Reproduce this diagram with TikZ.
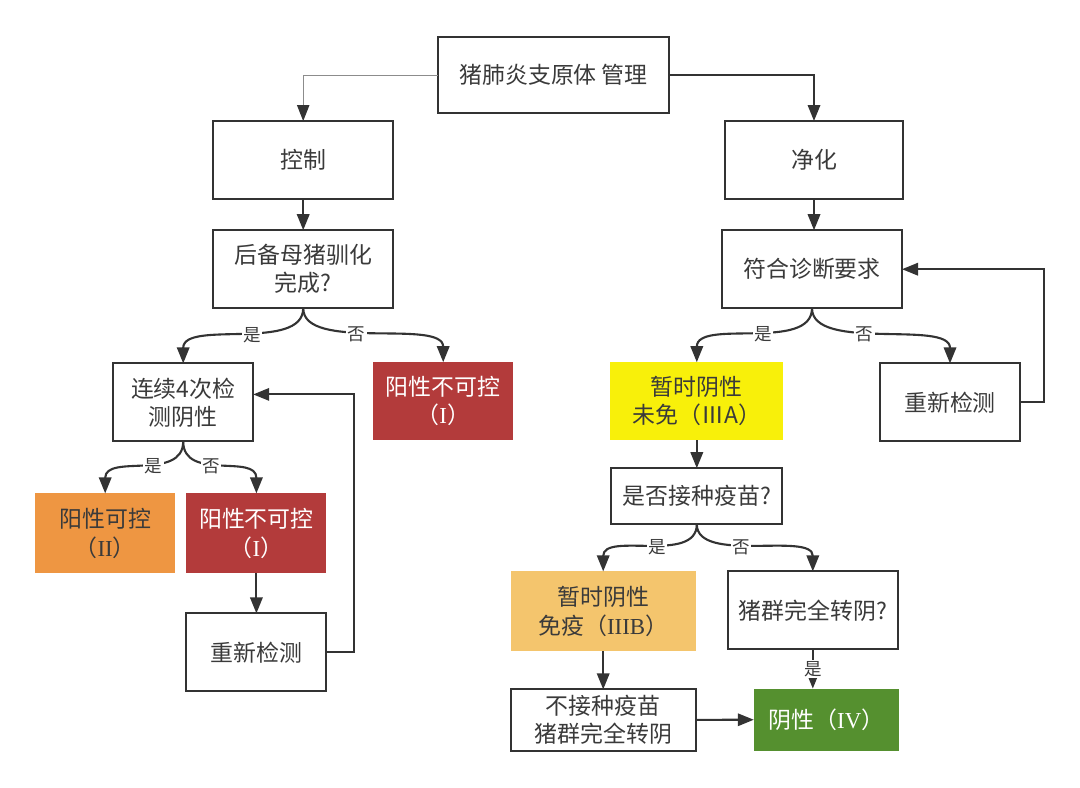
\documentclass[tikz,border=0pt]{standalone}
\usepackage{fontspec}
\setmainfont{Noto Sans CJK SC}
\newfontfamily\romanfont{Liberation Serif}
\usepackage{tikz}
\usetikzlibrary{arrows.meta, positioning}

\definecolor{DarkLine}{HTML}{333333}
\definecolor{ThinGray}{HTML}{8C8C8C}
\definecolor{TextGray}{HTML}{3A3A3A}
\definecolor{PosRed}{HTML}{B33B3B}
\definecolor{PosOrange}{HTML}{EE9642}
\definecolor{NegYellow}{HTML}{F8F00A}
\definecolor{ImmOrange}{HTML}{F4C56D}
\definecolor{NegGreen}{HTML}{55902F}

\begin{document}
\begin{tikzpicture}[node distance=1cm,
        block/.style={rectangle, draw=DarkLine, line width=1.4pt, fill=white, text=TextGray, align=center, minimum width=4.5cm, minimum height=1.95cm, inner sep=2pt, outer sep=0pt, font=\fontsize{16.3}{20}\selectfont},
        small/.style={block, minimum width=3.5cm},
        filled/.style={draw=none},
        line/.style={draw, -{Triangle[length=4mm, width=3.1mm]}, DarkLine, line width=1.5pt},
        lbl/.style={fill=white, inner sep=1pt, text=TextGray, font=\fontsize{12.5}{14}\selectfont}]

        \useasboundingbox (0,0) rectangle (27,-19.675);

        \node [block, minimum width=5.78cm, minimum height=1.9cm] (mgmt) at (13.84,-1.875) {猪肺炎支原体 管理};
        \node [block, below=0.2cm of mgmt, xshift=-6.26cm] (ctrl) {控制};
        \node [block, below=0.2cm of mgmt, xshift=6.51cm, minimum width=4.45cm] (purif) {净化};

        % control branch
        \node [block, below=0.78cm of ctrl] (gilt) {后备母猪驯化\\完成?};
        \node [small, below=1.38cm of gilt, xshift=-3cm] (neg4) {连续4次检\\测阴性};
        \node [small, filled, fill=PosRed, text=white, below=1.35cm of gilt, xshift=3.5cm] (posUnc) {阳性不可控\\（{\romanfont I}）};
        \node [small, filled, fill=PosOrange, minimum height=2cm, below=1.3cm of neg4, xshift=-1.95cm] (posCtl) {阳性可控\\（{\romanfont II}）};
        \node [small, filled, fill=PosRed, text=white, minimum height=2cm, below=1.3cm of neg4, xshift=1.83cm] (posUncL) {阳性不可控\\（{\romanfont I}）};
        \node [small, below=1cm of posUncL] (retestL) {重新检测};

        % purification branch
        \node [block, below=0.78cm of purif, xshift=-0.05cm] (diag) {符合诊断要求};
        \node [block, filled, fill=NegYellow, minimum width=4.33cm, below=1.35cm of diag, xshift=-2.88cm] (tmpNegA) {暂时阴性\\未免（ⅢA）};
        \node [small, below=1.38cm of diag, xshift=3.45cm] (retestR) {重新检测};
        \node [block, minimum width=4.28cm, minimum height=1.4cm, below=0.7cm of tmpNegA] (vacc) {是否接种疫苗?};
        \node [block, filled, fill=ImmOrange, minimum width=4.63cm, minimum height=2cm, below=1.18cm of vacc, xshift=-2.34cm] (tmpNegB) {暂时阴性\\免疫（{\romanfont IIIB}）};
        \node [block, minimum width=4.25cm, below=1.18cm of vacc, xshift=2.9cm] (herdNeg) {猪群完全转阴?};
        \node [block, minimum width=4.63cm, minimum height=1.53cm, below=0.95cm of tmpNegB] (noVacc) {不接种疫苗\\猪群完全转阴};
        \node [block, filled, fill=NegGreen, text=white, minimum width=3.63cm, minimum height=1.55cm, below=0.98cm of herdNeg, xshift=0.34cm] (negIV) {阴性（{\romanfont IV}）};

        \path [line, draw=ThinGray, line width=0.7pt, -{Triangle[length=4mm, width=3.1mm, color=DarkLine]}] (mgmt.west) -| (ctrl.north);
        \path [line] (mgmt.east) -| (purif.north);
        \path [line] (ctrl) -- (gilt);
        \path [line] (purif.south) -- (purif.south |- diag.north);

        \path [line] (gilt.south) .. controls +(0,-1.1) and +(0,1.1) .. node [lbl, pos=0.45] {是} (neg4.north);
        \path [line] (gilt.south) .. controls +(0,-1.1) and +(0,1.1) .. node [lbl, pos=0.42] {否} (posUnc.north);
        \path [line] (neg4.south) .. controls +(0,-1) and +(0,1) .. node [lbl, pos=0.42] {是} (posCtl.north);
        \path [line] (neg4.south) .. controls +(0,-1) and +(0,1) .. node [lbl, pos=0.42] {否} (posUncL.north);
        \path [line] (posUncL) -- (retestL);
        \path [line] (retestL.east) -- ++(0.68,0) |- ([yshift=0.2cm]neg4.east);

        \path [line] (diag.south) .. controls +(0,-1.1) and +(0,1.1) .. node [lbl, pos=0.45] {是} (tmpNegA.north);
        \path [line] (diag.south) .. controls +(0,-1.1) and +(0,1.1) .. node [lbl, pos=0.42] {否} (retestR.north);
        \path [line] (retestR.east) -- ++(0.6,0) |- (diag.east);
        \path [line] (tmpNegA) -- (vacc);
        \path [line] (vacc.south) .. controls +(0,-1) and +(0,1) .. node [lbl, pos=0.45] {是} (tmpNegB.north);
        \path [line] (vacc.south) .. controls +(0,-1) and +(0,1) .. node [lbl, pos=0.42] {否} (herdNeg.north);
        \path [line] (tmpNegB) -- (noVacc);
        \path [line] (herdNeg.south) -- node [lbl] {是} (herdNeg.south |- negIV.north);
        \path [line] (noVacc) -- (negIV);
    \end{tikzpicture}
\end{document}
